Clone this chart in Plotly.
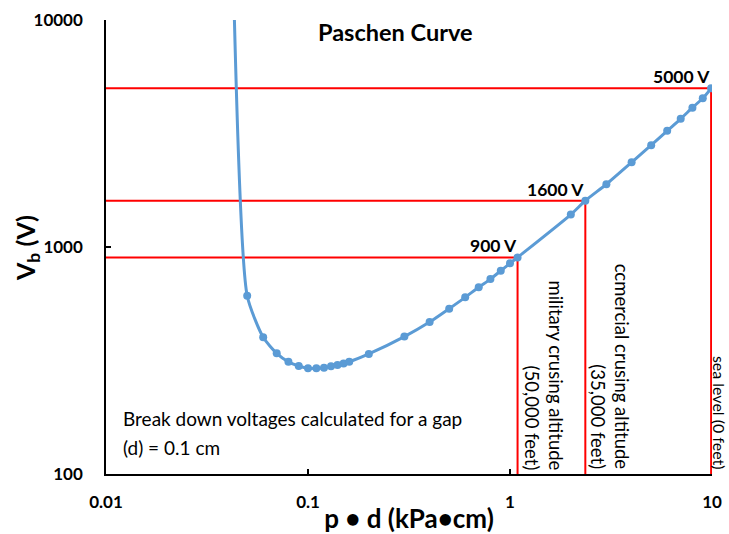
import numpy as np
import plotly.graph_objects as go

# Paschen curve data (p*d in kPa*cm, breakdown voltage in V)
pd_vals = [0.0429, 0.05, 0.06, 0.07, 0.08, 0.09, 0.10, 0.11, 0.12, 0.13, 0.14, 0.15, 0.16,
           0.2, 0.3, 0.4, 0.5, 0.6, 0.7, 0.8, 0.9, 1.0, 1.09, 2.0, 2.36, 3.0, 4.0, 5.0,
           6.0, 7.0, 8.0, 9.0, 9.9]
vb_vals = [13000, 610, 400, 340, 312, 299, 292, 292, 294, 298, 302, 307, 312,
           338, 403, 467, 535, 600, 665, 722, 786, 847, 900, 1390, 1600, 1890, 2360, 2810,
           3250, 3670, 4110, 4520, 5000]

# Reference levels
ref_pd = [1.09, 2.36, 9.9]
ref_v = [900, 1600, 5000]
ref_v_labels = ["900 V", "1600 V", "5000 V"]
alt_labels = ["military crusing altitude<br>(50,000 feet)",
              "ccmercial crusing altitude<br>(35,000 feet)",
              "sea level (0 feet)"]
alt_shift = [26, 25, 9]
alt_size = [18.5, 18.5, 16]

x_min, y_min = 0.01, 100

FONT = "Lato"
RED = "#FF0000"
BLUE = "#5B9BD5"

fig = go.Figure()

for px_, v in zip(ref_pd, ref_v):
    fig.add_trace(go.Scatter(x=[x_min, px_, px_], y=[v, v, y_min], mode="lines",
                             line=dict(color=RED, width=2), hoverinfo="skip",
                             showlegend=False))

fig.add_trace(go.Scatter(x=pd_vals, y=vb_vals, mode="lines+markers",
                         line=dict(color=BLUE, width=3, shape="spline", smoothing=0.6),
                         marker=dict(color=BLUE, size=8),
                         showlegend=False, cliponaxis=True))

annotations = []
annotations.append(dict(text="<b>Paschen Curve</b>", xref="paper", yref="paper",
                        x=(395 - 106) / 606, y=1 - (32 - 20) / 454,
                        xanchor="center", yanchor="middle", showarrow=False,
                        font=dict(family=FONT, size=23.5, color="black")))

annotations.append(dict(text="<b>V<sub>b</sub> (V)</b>", xref="paper", yref="paper",
                        x=(27 - 106) / 606, y=(474 - 248) / 454,
                        xanchor="center", yanchor="middle", textangle=-90, showarrow=False,
                        font=dict(family=FONT, size=25, color="black")))

for px_, v, lab in zip(ref_pd, ref_v, ref_v_labels):
    annotations.append(dict(text="<b>%s</b>" % lab, x=np.log10(px_), y=np.log10(v),
                            xref="x", yref="y", xanchor="right", yanchor="bottom",
                            xshift=1, yshift=-1, showarrow=False,
                            font=dict(family=FONT, size=17.5, color="black")))

for px_, lab, sh, fs in zip(ref_pd, alt_labels, alt_shift, alt_size):
    annotations.append(dict(text=lab, x=np.log10(px_), y=np.log10(y_min),
                            xref="x", yref="y", xanchor="center", yanchor="bottom",
                            xshift=sh, yshift=2, textangle=90, align="right",
                            showarrow=False,
                            font=dict(family=FONT, size=fs, color="black")))

annotations.append(dict(text="Break down voltages calculated for a gap", xref="paper", yref="paper",
                        x=(121 - 106) / 606, y=(474 - 418) / 454, xanchor="left", yanchor="middle",
                        showarrow=False, font=dict(family=FONT, size=19, color="black")))
annotations.append(dict(text="(d) = 0.1 cm", xref="paper", yref="paper",
                        x=(121 - 106) / 606, y=(474 - 447) / 454, xanchor="left", yanchor="middle",
                        showarrow=False, font=dict(family=FONT, size=19, color="black")))

fig.update_layout(
    width=729, height=534,
    margin=dict(l=106, r=17, t=20, b=60),
    paper_bgcolor="white", plot_bgcolor="white",
    showlegend=False,
    annotations=annotations,
    font=dict(family=FONT, color="black"),
    xaxis=dict(type="log", range=[-2, 1], tickvals=[0.01, 0.1, 1, 10],
               ticktext=["0.01", "0.1", "1", "10"], automargin=False,
               ticks="inside", ticklen=5, tickcolor="black", tickwidth=1.5,
               showline=True, linecolor="black", linewidth=1.5, showgrid=False,
               zeroline=False, tickfont=dict(family=FONT, size=17, weight="bold"),
               ticklabelstandoff=12,
               title=dict(text="<b>p • d (kPa•cm)</b>", font=dict(family=FONT, size=26),
                          standoff=2)),
    yaxis=dict(type="log", range=[2, 4], tickvals=[100, 1000, 10000],
               ticktext=["100", "1000", "10000"], automargin=False,
               ticks="inside", ticklen=5, tickcolor="black", tickwidth=1.5,
               showline=True, linecolor="black", linewidth=1.5, showgrid=False,
               zeroline=False, tickfont=dict(family=FONT, size=17, weight="bold"),
               ticklabelstandoff=18),
)

fig.write_html("out.html")
